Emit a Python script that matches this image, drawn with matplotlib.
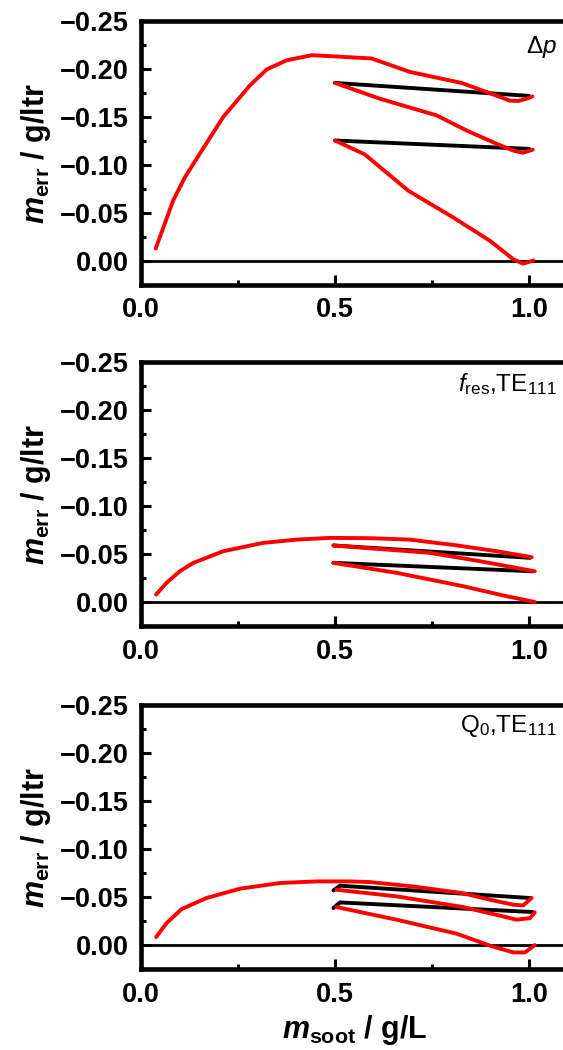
import matplotlib
matplotlib.use("Agg")
import matplotlib.pyplot as plt
from matplotlib.ticker import MultipleLocator, FuncFormatter


# Fonts: bold Arial-like text, math italic slot = bold italic,
# sf / cal slots used for the regular-weight panel annotations
plt.rcParams['font.family'] = ['Liberation Sans', 'DejaVu Sans']
plt.rcParams['mathtext.fontset'] = 'custom'
plt.rcParams['mathtext.rm'] = 'Liberation Sans:bold'
plt.rcParams['mathtext.bf'] = 'Liberation Sans:bold'
plt.rcParams['mathtext.it'] = 'Liberation Sans:italic:bold'
plt.rcParams['mathtext.sf'] = 'Liberation Sans'
plt.rcParams['mathtext.cal'] = 'Liberation Sans:italic'


# Panel 1: delta p
dp_load_x = [0.038, 0.083, 0.113, 0.152, 0.212, 0.281, 0.324, 0.375, 0.44, 0.504,
             0.594, 0.693, 0.762, 0.826, 0.891, 0.951, 0.972, 0.994, 1.009]
dp_load_y = [-0.013, -0.063, -0.087, -0.112, -0.150, -0.183, -0.1995, -0.209, -0.2144, -0.213,
             -0.211, -0.197, -0.191, -0.1855, -0.176, -0.167, -0.1667, -0.169, -0.1715]
dp_back1_x = [1.0, 0.5]
dp_back1_y = [-0.172, -0.1855]
dp_cyc2_x = [0.5, 0.616, 0.762, 0.839, 0.917, 0.96, 0.985, 1.01]
dp_cyc2_y = [-0.1855, -0.169, -0.1517, -0.136, -0.122, -0.115, -0.1127, -0.116]
dp_back2_x = [1.0, 0.5]
dp_back2_y = [-0.1168, -0.1255]
dp_cyc3_x = [0.5, 0.577, 0.689, 0.805, 0.9, 0.96, 0.985, 1.012]
dp_cyc3_y = [-0.1255, -0.111, -0.0732, -0.0453, -0.0209, -0.0017, 0.0028, -0.0005]

# Panel 2: f_res, TE111
fr_load_x = [0.039, 0.066, 0.1, 0.135, 0.212, 0.315, 0.401, 0.487, 0.59, 0.693, 0.814, 0.917, 1.007]
fr_load_y = [-0.0078, -0.020, -0.032, -0.0408, -0.0529, -0.0616, -0.065, -0.0668, -0.0665,
             -0.065, -0.059, -0.0529, -0.0467]
fr_back1_x = [1.003, 0.496]
fr_back1_y = [-0.046, -0.0589]
fr_cyc2_x = [0.496, 0.745, 0.874, 1.015]
fr_cyc2_y = [-0.0589, -0.0512, -0.0425, -0.032]
fr_back2_x = [1.01, 0.496]
fr_back2_y = [-0.032, -0.0408]
fr_cyc3_x = [0.496, 0.659, 0.83, 0.934, 1.015]
fr_cyc3_y = [-0.0408, -0.0304, -0.0165, -0.0068, 0.0]

# Panel 3: Q0, TE111
q0_load_x = [0.039, 0.066, 0.105, 0.169, 0.255, 0.358, 0.453, 0.539, 0.59, 0.702,
             0.83, 0.9, 0.96, 0.985, 1.007]
q0_load_y = [-0.0083, -0.0229, -0.0375, -0.049, -0.0587, -0.0646, -0.0663, -0.0663, -0.0656,
             -0.061, -0.054, -0.0472, -0.042, -0.0413, -0.049]
q0_back1_x = [1.003, 0.513, 0.496]
q0_back1_y = [-0.049, -0.0618, -0.0569]
q0_cyc2_x = [0.504, 0.659, 0.83, 0.934, 0.968, 1.003, 1.015]
q0_cyc2_y = [-0.0576, -0.0507, -0.0396, -0.0298, -0.0264, -0.0281, -0.034]
q0_back2_x = [1.01, 0.513, 0.496]
q0_back2_y = [-0.0344, -0.0444, -0.0385]
q0_cyc3_x = [0.504, 0.659, 0.814, 0.9, 0.96, 0.99, 1.015]
q0_cyc3_y = [-0.0396, -0.0264, -0.0118, 0.0007, 0.0077, 0.0077, 0.0]

panel_labels = ['Δ$\\mathcal{p}$',
                '$\\mathcal{f}_{\\mathsf{res}}$,TE$_{\\mathsf{111}}$',
                'Q$_{\\mathsf{0}}$,TE$_{\\mathsf{111}}$']
label_y = [0.879, 0.89, 0.898]

panels = [
    ([(dp_load_x, dp_load_y), (dp_cyc2_x, dp_cyc2_y), (dp_cyc3_x, dp_cyc3_y)],
     [(dp_back1_x, dp_back1_y), (dp_back2_x, dp_back2_y)]),
    ([(fr_load_x, fr_load_y), (fr_cyc2_x, fr_cyc2_y), (fr_cyc3_x, fr_cyc3_y)],
     [(fr_back1_x, fr_back1_y), (fr_back2_x, fr_back2_y)]),
    ([(q0_load_x, q0_load_y), (q0_cyc2_x, q0_cyc2_y), (q0_cyc3_x, q0_cyc3_y)],
     [(q0_back1_x, q0_back1_y), (q0_back2_x, q0_back2_y)]),
]

fig = plt.figure(figsize=(5.63, 10.5), dpi=100)
bottoms = [0.7286, 0.4038, 0.0771]


def minus_fmt(v, pos):
    return f"{v:.2f}".replace('-', '\u2212')


for i, (red_segs, black_segs) in enumerate(panels):
    # axes run past the right edge of the figure, like in the original
    ax = fig.add_axes([0.2504, bottoms[i], 0.758, 0.2514])
    ax.axhline(0, color='black', lw=2.0, zorder=1)
    for x, y in black_segs:
        ax.plot(x, y, color='black', lw=2.8, solid_capstyle='round', solid_joinstyle='round', zorder=2)
    for x, y in red_segs:
        ax.plot(x, y, color='#ff0000', lw=2.8, solid_capstyle='round', solid_joinstyle='round', zorder=3)

    ax.set_xlim(0, 1.1)
    ax.set_ylim(0.025, -0.25)
    ax.xaxis.set_major_locator(MultipleLocator(0.5))
    ax.xaxis.set_minor_locator(MultipleLocator(0.25))
    ax.yaxis.set_major_locator(MultipleLocator(0.05))
    ax.yaxis.set_minor_locator(MultipleLocator(0.025))
    ax.yaxis.set_major_formatter(FuncFormatter(minus_fmt))
    ax.xaxis.set_major_formatter(FuncFormatter(lambda v, pos: f"{v:.1f}"))

    for s in ax.spines.values():
        s.set_linewidth(3.3)
    ax.tick_params(which='both', direction='in', width=2.2, top=False, right=False)
    ax.tick_params(which='major', length=7.5, labelsize=19.5, pad=9)
    ax.tick_params(which='minor', length=3.8)
    for t in ax.get_xticklabels() + ax.get_yticklabels():
        t.set_fontweight('bold')

    ax.set_ylabel('$m_{\\rm err}$ / g/ltr', fontsize=22, fontweight='bold', labelpad=5)
    ax.text(0.975, label_y[i], panel_labels[i], transform=ax.transAxes,
            ha='right', va='baseline', fontsize=17.5)
    if i == 2:
        ax.set_xlabel('$m_{\\rm soot}$ / g/L', fontsize=22, fontweight='bold', labelpad=4)

fig.savefig('out.png', dpi=100)
